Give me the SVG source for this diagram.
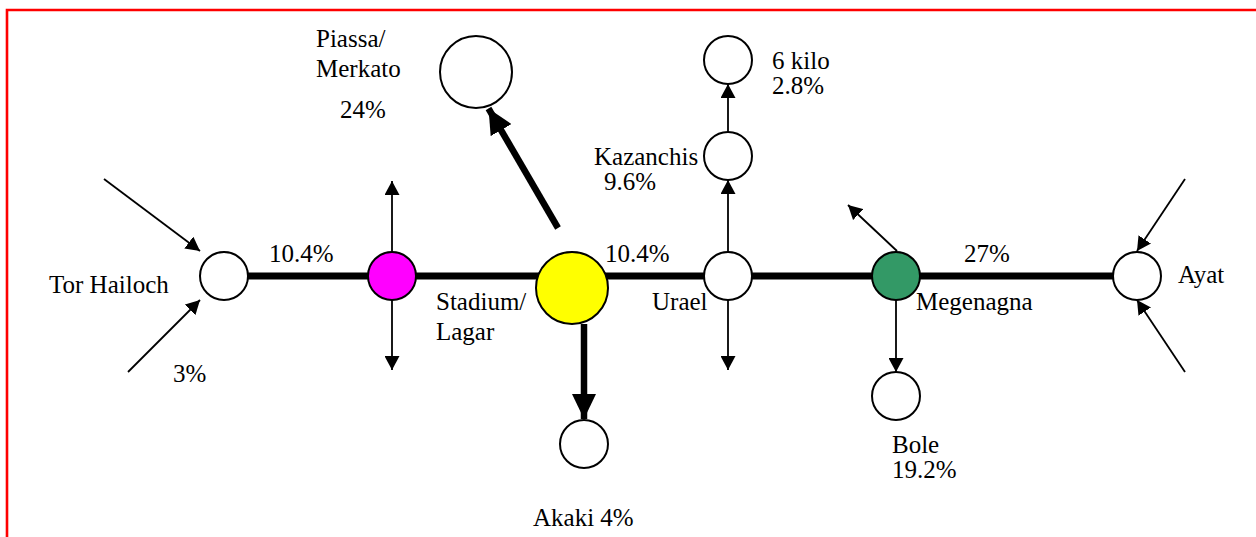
<svg xmlns="http://www.w3.org/2000/svg" width="1256" height="537" viewBox="0 0 1256 537">
  <style>
    .frame { fill: none; stroke: #ff0000; stroke-width: 2.6; }
    .stop { stroke: #000; stroke-width: 2; fill: #fff; }
    .trunk { stroke: #000; stroke-width: 7; fill: none; }
    .heavy { stroke: #000; stroke-width: 6.5; fill: none; marker-end: url(#bigHead); }
    .flow { stroke: #000; stroke-width: 1.8; fill: none; marker-end: url(#head); }
    text { font-family: "Liberation Serif", "DejaVu Serif", serif; font-size: 25px; fill: #000; }
  </style>
  <defs>
    <marker id="head" markerUnits="userSpaceOnUse" viewBox="0 0 14 15" markerWidth="14" markerHeight="15" refX="14" refY="7.5" orient="auto">
      <path d="M0,0 L14,7.5 L0,15 Z" fill="#000"/>
    </marker>
    <marker id="bigHead" markerUnits="userSpaceOnUse" viewBox="0 0 25 24" markerWidth="25" markerHeight="24" refX="25" refY="12" orient="auto">
      <path d="M0,0 L25,12 L0,24 Z" fill="#000"/>
    </marker>
  </defs>

  <rect width="1256" height="537" fill="#fff"/>
  <path class="frame" d="M7,537 V10 H1256"/>

  <!-- connectors -->
  <g id="connectors">
    <line class="trunk" x1="248" y1="276" x2="1113" y2="276"/>
    <!-- Tor Hailoch inflows -->
    <line class="flow" x1="104" y1="179" x2="200" y2="251"/>
    <line class="flow" x1="128" y1="372" x2="200" y2="300"/>
    <!-- branch at the magenta stop -->
    <line class="flow" x1="392" y1="252" x2="392" y2="181"/>
    <line class="flow" x1="392" y1="300" x2="392" y2="370"/>
    <!-- Stadium/Lagar to Piassa and Akaki -->
    <line class="heavy" x1="558" y1="228" x2="488.5" y2="108.5"/>
    <line class="heavy" x1="584" y1="324" x2="584" y2="419"/>
    <!-- Urael branches -->
    <line class="flow" x1="728" y1="252" x2="728" y2="180"/>
    <line class="flow" x1="728" y1="132" x2="728" y2="84"/>
    <line class="flow" x1="728" y1="300" x2="728" y2="370"/>
    <!-- Megenagna branches -->
    <line class="flow" x1="897" y1="251" x2="848" y2="205"/>
    <line class="flow" x1="896" y1="300" x2="896" y2="372"/>
    <!-- Ayat inflows -->
    <line class="flow" x1="1185" y1="179" x2="1137" y2="251"/>
    <line class="flow" x1="1185" y1="372" x2="1137" y2="300"/>
  </g>

  <!-- stops -->
  <g id="tor-hailoch">
    <circle class="stop" cx="224" cy="276" r="24"/>
    <text x="49" y="293">Tor Hailoch</text>
    <text x="173" y="382">3%</text>
  </g>
  <g id="junction-west">
    <circle class="stop" cx="392" cy="276" r="24" style="fill:#ff00ff"/>
    <text x="269" y="262">10.4%</text>
  </g>
  <g id="stadium-lagar">
    <circle class="stop" cx="572" cy="288" r="36" style="fill:#ffff00"/>
    <text x="436" y="310">Stadium/</text>
    <text x="436" y="340">Lagar</text>
    <text x="605" y="262">10.4%</text>
  </g>
  <g id="piassa-merkato">
    <circle class="stop" cx="476" cy="72" r="36"/>
    <text x="316" y="47">Piassa/</text>
    <text x="316" y="77">Merkato</text>
    <text x="340" y="118">24%</text>
  </g>
  <g id="akaki">
    <circle class="stop" cx="584" cy="444" r="24"/>
    <text x="533" y="526">Akaki 4%</text>
  </g>
  <g id="urael">
    <circle class="stop" cx="728" cy="276" r="24"/>
    <text x="652" y="310">Urael</text>
  </g>
  <g id="kazanchis">
    <circle class="stop" cx="728" cy="156" r="24"/>
    <text x="594" y="165">Kazanchis</text>
    <text x="604" y="190">9.6%</text>
  </g>
  <g id="six-kilo">
    <circle class="stop" cx="728" cy="60" r="24"/>
    <text x="772" y="69">6 kilo</text>
    <text x="772" y="94">2.8%</text>
  </g>
  <g id="megenagna">
    <circle class="stop" cx="896" cy="276" r="24" style="fill:#339966"/>
    <text x="916" y="310">Megenagna</text>
    <text x="964" y="262">27%</text>
  </g>
  <g id="bole">
    <circle class="stop" cx="896" cy="396" r="24"/>
    <text x="892" y="453">Bole</text>
    <text x="892" y="478">19.2%</text>
  </g>
  <g id="ayat">
    <circle class="stop" cx="1137" cy="276" r="24"/>
    <text x="1178" y="283">Ayat</text>
  </g>
</svg>
